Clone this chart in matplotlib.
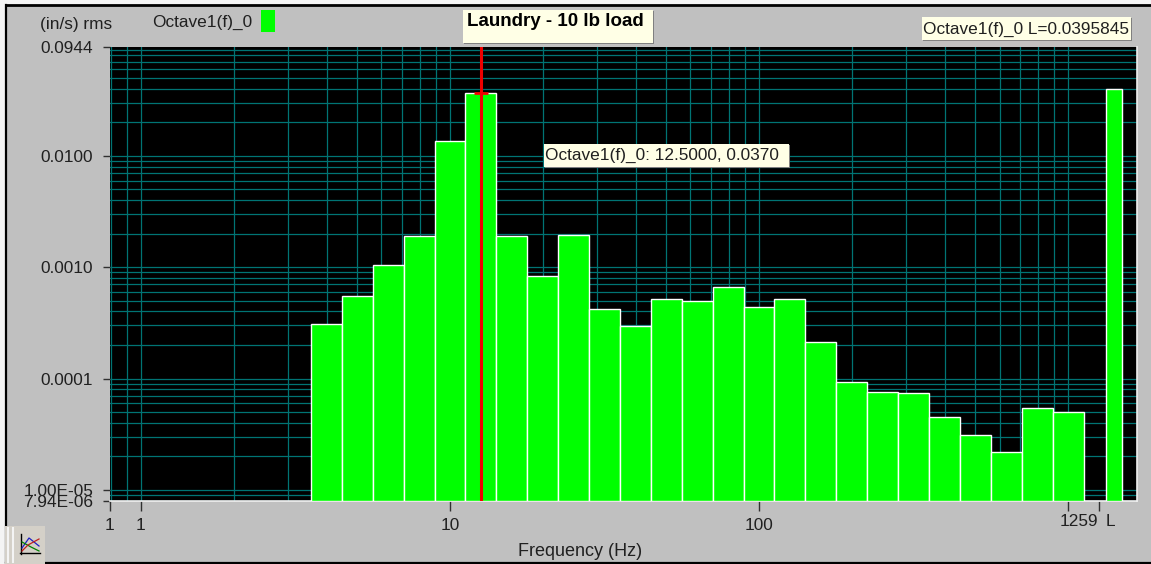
import matplotlib
matplotlib.use("Agg")
import matplotlib.pyplot as plt
from matplotlib.patches import Rectangle
from matplotlib.lines import Line2D
from matplotlib.ticker import NullFormatter, NullLocator
import numpy as np

plt.rcParams['font.family'] = ['Liberation Sans', 'DejaVu Sans']

# ---- data ----
band_centres = [4, 5, 6.3, 8, 10, 12.5, 16, 20, 25, 31.5, 40, 50, 63, 80, 100,
                125, 160, 200, 250, 315, 400, 500, 630, 800, 1000]
band_values = [3.11e-4, 5.55e-4, 1.05e-3, 1.92e-3, 0.01363, 0.0370, 1.92e-3,
               8.4e-4, 1.96e-3, 4.25e-4, 2.99e-4, 5.22e-4, 5.0e-4, 6.68e-4,
               4.42e-4, 5.22e-4, 2.15e-4, 9.4e-5, 7.49e-5, 7.34e-5, 4.47e-5,
               3.08e-5, 2.21e-5, 5.38e-5, 4.96e-5]
overall_position = [1410]
overall_value = [0.0395845]
cursor_frequency = 12.5
cursor_value = 0.0370
y_ticks = [0.0944, 0.01, 0.001, 0.0001, 1e-5, 7.94e-6]
y_tick_labels = ['0.0944', '0.0100', '0.0010', '0.0001', '1.00E-05', '7.94E-06']
x_ticks = [0.794, 1, 10, 100, 1000, 1259]
x_tick_labels = ['1', '1', '10', '100', '', '']
x_limits = (0.794, 1671)
y_limits = (7.94e-6, 0.0944)

W, H = 1151, 564
GREY = '#C0C0C0'
CREAM = '#FFFFE6'
TEAL = '#007474'
GREEN = '#00FF00'
TXT = '#202020'
FS = 12.4

fig = plt.figure(figsize=(W / 100, H / 100), dpi=100, facecolor='#F4F4F4')


def px_rect(x0, y0, x1, y1, **kw):
    fig.add_artist(Rectangle((x0 / W, 1 - y1 / H), (x1 - x0) / W, (y1 - y0) / H,
                             transform=fig.transFigure, **kw))


def px_line(xs, ys, **kw):
    fig.add_artist(Line2D([x / W for x in xs], [1 - y / H for y in ys],
                          transform=fig.transFigure, **kw))


def px_text(x, y, s, **kw):
    kw.setdefault('color', TXT)
    kw.setdefault('fontsize', FS)
    kw.setdefault('va', 'center')
    fig.text(x / W, 1 - y / H, s, **kw)


def tip(x0, y0, x1, y1):
    px_rect(x0 + 1, y0 + 1, x1 + 1, y1 + 1, fc='#808080', ec='none', lw=0, zorder=20)
    px_rect(x0, y0, x1, y1, fc=CREAM, ec='none', lw=0, zorder=21)


# window background
px_rect(6, 5, W, 562, fc=GREY, ec='none', lw=0, zorder=-5)
px_line([6, 6], [5, 562], color='black', lw=1.6, zorder=-4)
px_line([6, W], [5, 5], color='black', lw=2, zorder=-4)
px_line([6, W], [562.5, 562.5], color='black', lw=1.6, zorder=-4)

# plot area
L, R, T, B = 110, 1137, 47.3, 501
ax = fig.add_axes([L / W, 1 - B / H, (R - L) / W, (B - T) / H], facecolor='black')
ax.set_xscale('log')
ax.set_yscale('log')
ax.set_xlim(*x_limits)
ax.set_ylim(*y_limits)

# grid
for decade in [1, 10, 100]:
    for m in range(1, 10):
        ax.axvline(m * decade, color=TEAL, lw=0.9, zorder=1)
ax.axvline(0.8, color=TEAL, lw=0.9, zorder=1)
ax.axvline(0.9, color=TEAL, lw=0.9, zorder=1)
ax.axvline(1000, color=TEAL, lw=0.9, zorder=1)
for decade in [1e-6, 1e-5, 1e-4, 1e-3, 1e-2]:
    for m in range(1, 10):
        v = m * decade
        if y_limits[0] < v < y_limits[1]:
            ax.axhline(v, color=TEAL, lw=0.9, zorder=1)

# bars: third-octave bands, adjacent bands share their edges
band_index = np.round(10 * np.log10(band_centres))
lefts = 10 ** ((band_index - 0.5) / 10)
rights = 10 ** ((band_index + 0.5) / 10)
ax.bar(lefts, np.array(band_values) - y_limits[0], width=rights - lefts,
       bottom=y_limits[0], align='edge', color=GREEN, edgecolor='white', lw=1.0, zorder=3)
half_l = 10 ** 0.026
ol = np.array(overall_position, dtype=float)
ax.bar(ol / half_l, np.array(overall_value) - y_limits[0], width=ol * half_l - ol / half_l,
       bottom=y_limits[0], align='edge', color=GREEN, edgecolor='white', lw=1.0, zorder=3)

# cursor
ax.axvline(cursor_frequency * 1.007, color='#F00000', lw=2.2, zorder=5)
ax.plot([cursor_frequency * 1.007], [cursor_value], marker='_', ms=10, mew=2, color='#F00000', zorder=5)

# axes frame
for s in ['top', 'left']:
    ax.spines[s].set_visible(False)
for s in ['bottom', 'right']:
    ax.spines[s].set_color('#F0F0F0')
    ax.spines[s].set_linewidth(1.2)

ax.xaxis.set_minor_locator(NullLocator())
ax.yaxis.set_minor_locator(NullLocator())
ax.xaxis.set_minor_formatter(NullFormatter())
ax.yaxis.set_minor_formatter(NullFormatter())
ax.set_xticks(x_ticks)
ax.set_xticklabels(x_tick_labels)
ax.set_yticks(y_ticks)
ax.set_yticklabels(y_tick_labels)
ax.tick_params(axis='y', length=5, width=1, color='#303030', labelcolor=TXT, labelsize=FS, pad=7)
ax.tick_params(axis='x', length=7, width=1, color='#303030', labelcolor=TXT, labelsize=FS, pad=5)

# separate labels of the last two x ticks
px_text(1079, 522, '1259', ha='center')
px_text(1110, 522, 'L', ha='center')

# header text
px_text(76, 25, '(in/s) rms', ha='center')
px_text(152, 22, 'Octave1(f)_0', ha='left')
px_rect(261, 10, 275, 32, fc=GREEN, ec='none', lw=0)
px_text(580, 551, 'Frequency (Hz)', ha='center', fontsize=13)

# tooltips
tip(463, 10, 653, 43)
px_text(467, 21, 'Laundry - 10 lb load', ha='left', fontweight='bold', color='black',
        fontsize=13.5, zorder=22)
tip(544, 144, 789, 167)
px_text(545, 155, 'Octave1(f)_0: 12.5000, 0.0370', ha='left', zorder=22)
tip(922, 17, 1131, 40)
px_text(923, 29, 'Octave1(f)_0 L=0.0395845', ha='left', zorder=22)

# toolbar icon
px_rect(5, 526, 45, 564, fc='#D4D0C8', ec='none', lw=0, zorder=2)
px_line([8, 8], [528, 562], color='#F4F4F4', lw=1.5, zorder=3)
px_line([13, 13], [528, 562], color='#F4F4F4', lw=1.5, zorder=3)
px_line([21, 21], [534, 554], color='black', lw=1, zorder=3)
px_line([20, 40], [553, 553], color='black', lw=1, zorder=3)
px_line([22, 29, 39], [548, 538, 546], color='#2020C0', lw=0.9, zorder=3)
px_line([22, 31, 39], [542, 547, 551], color='#008000', lw=0.9, zorder=3)
px_line([22, 28, 39], [551, 545, 539], color='#C02020', lw=0.9, zorder=3)

fig.savefig('out.png', dpi=100, facecolor=fig.get_facecolor())
